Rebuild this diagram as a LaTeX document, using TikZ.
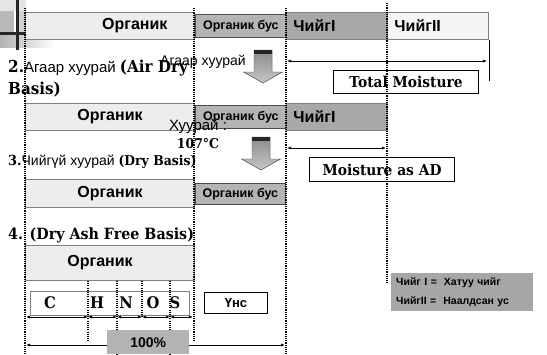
\documentclass[tikz,border=0pt]{standalone}
\usepackage{fontspec}
\setmainfont{Liberation Sans}
\newfontfamily\serf[FakeStretch=0.92]{DejaVu Serif}
\usetikzlibrary{arrows.meta,positioning,calc}
\definecolor{orglight}{HTML}{EDEDED}
\definecolor{busgray}{HTML}{B4B4B4}
\definecolor{moistgray}{HTML}{A8A8A8}
\definecolor{paleface}{HTML}{F5F5F5}
\definecolor{edgegray}{HTML}{808080}
\definecolor{arrowgray}{HTML}{8C8C8C}
\definecolor{pctgray}{HTML}{B3B3B3}
\definecolor{legendgray}{HTML}{A6A6A6}
\newcommand{\fsz}[1]{\fontsize{#1}{#1}\selectfont}
\tikzset{
  >=Latex,
  orgbox/.style={rectangle, draw=edgegray, line width=0.9pt, fill=orglight, inner sep=0pt,
    minimum width=169pt, minimum height=27pt, font=\fsz{16}\bfseries},
  busbox/.style={rectangle, draw=black!70, line width=0.7pt, fill=busgray, inner sep=0pt,
    minimum width=91pt, minimum height=23pt, font=\fsz{12.5}\bfseries},
  moistbox/.style={rectangle, draw=edgegray, line width=0.9pt, inner sep=0pt,
    minimum width=101pt, minimum height=27pt, text width=87pt, align=left, font=\fsz{16}\bfseries},
  namebox/.style={rectangle, draw=black, line width=1pt, fill=white, inner sep=0pt,
    minimum width=145pt, minimum height=23pt, font=\serf\bfseries\fsz{15}},
  heading/.style={anchor=west, inner sep=0pt, align=left},
  element/.style={inner sep=0pt, font=\serf\bfseries\fsz{16}},
  guide/.style={line width=1.1pt, dash pattern=on 1.1pt off 1.1pt},
  dim/.style={{Latex[length=4pt,width=3pt]}-{Latex[length=4pt,width=3pt]}, line width=0.7pt},
  legend/.style={rectangle, fill=legendgray, inner sep=0pt, minimum width=142pt, minimum height=38pt,
    text width=132pt, align=left, font=\fsz{10.5}\bfseries}
}
\newcommand{\dropdown}[2]{
  \filldraw[draw=gray!60!black, line width=0.4pt, top color=arrowgray, bottom color=arrowgray!50]
    ({#1-9},#2) -- ({#1+9},#2) -- ({#1+9},{#2+22}) -- ({#1+19.5},{#2+22}) -- (#1,{#2+33})
    -- ({#1-19.5},{#2+22}) -- ({#1-9},{#2+22}) -- cycle;
  \fill[black!85] ({#1-9},#2) rectangle ({#1+9},{#2+4});
}

\begin{document}
\begin{tikzpicture}[x=1pt, y=-1pt]
\useasboundingbox (0,0) rectangle (547,354);
\fill[gray!20] (0,0) rectangle (26,11);
\fill[gray!55] (0,11) rectangle (14,33);
\fill[gray!35] (19,11) rectangle (25,32);
\shade[left color=gray!60, right color=white] (0,35) rectangle (55,47);
\fill[black!85] (16,0) rectangle (19,50);
\fill[black!85] (0,32) rectangle (25,35);

\node[orgbox, anchor=north west, text width=115pt, align=right] (org1) at (25,12) {Органик};
\node[busbox, anchor=north west] (bus1) at (195,14) {Органик бус};
\node[moistbox, anchor=north west, fill=moistgray] (hard1) at (286,12) {ЧийгI};
\node[moistbox, anchor=north west, fill=paleface] (bound1) at (387,12) {ЧийгII};

\node[orgbox, anchor=north west] (org2) at (25,103) {Органик};
\node[busbox, anchor=north west] (bus2) at (195,105) {Органик бус};
\node[moistbox, anchor=north west, fill=moistgray] (hard2) at (286,103) {ЧийгI};

\node[orgbox, anchor=north west, minimum height=28pt] (org3) at (25,179) {Органик};
\node[busbox, anchor=north west, minimum width=90pt, minimum height=21pt] (bus3) at (195,183) {Органик бус};

\node[orgbox, anchor=north west, minimum height=35pt, text width=85pt, align=left] (org4) at (25,245) {Органик};
\node[rectangle, draw=edgegray, line width=0.9pt, fill=white, anchor=north west, minimum width=159pt, minimum height=24pt] (chnos) at (30,291) {};
\node[element] (elC) at (50,303) {C};
\node[element] (elH) at (97,303) {H};
\node[element] (elN) at (126,303) {N};
\node[element] (elO) at (153,303) {O};
\node[element] (elS) at (175,303) {S};
\node[namebox, anchor=north west, minimum width=63pt, minimum height=21pt, font=\fsz{13}\bfseries] (ash) at (204,292) {Үнс};

\node[heading, font=\fsz{15}] (hd2) at (8,78.5) {{\serf\bfseries\fsz{16.5}2.}Агаар хуурай {\serf\bfseries\fsz{16.5}(Air Dry}\\[4pt]{\serf\bfseries\fsz{16.5}Basis)}};
\node[heading] (hd3) at (8,162) {{\serf\bfseries\fsz{14}3.}{\fsz{14}Чийгүй хуурай }{\serf\bfseries\fsz{13.5}(Dry Basis)}};
\node[heading, font=\serf\bfseries\fsz{15.5}] (hd4) at (8,235) {4. (Dry Ash Free Basis)};
\node[inner sep=0pt, font=\fsz{14}] (airlbl) at (203,62) {Агаар хуурай};
\node[inner sep=0pt, align=center] (drylbl) at (198,134) {{\fsz{15}Хуурай :}\\[4pt]{\serf\bfseries\fsz{13.5}107°C}};

\dropdown{263}{50}
\dropdown{261}{137}

\node[namebox, anchor=north west] (tmbox) at (333,70) {Total Moisture};
\node[namebox, anchor=north west, minimum height=24pt] (adbox) at (309,157) {Moisture as AD};
\node[legend, anchor=north west] (key) at (391,273) {Чийг I =\ \ Хатуу чийг\\[8pt]ЧийгII =\ \ Наалдсан ус};

\draw[line width=0.7pt] (bound1.south east) -- ++(0,41);
\coordinate (tmL) at (287,61);
\coordinate (tmR) at (487,61);
\coordinate (adL) at (287,148);
\coordinate (adR) at (386,148);
\draw[dim] (tmL) -- (tmR);
\draw[dim] (adL) -- (adR);

\coordinate (gA1) at (25,8);
\coordinate (gA2) at (25,354);
\coordinate (gB1) at (194,8);
\coordinate (gB2) at (194,342);
\coordinate (gC1) at (286,8);
\coordinate (gC2) at (286,354);
\coordinate (gD1) at (387,3);
\coordinate (gD2) at (387,283);
\foreach \p/\q in {gA1/gA2, gB1/gB2, gC1/gC2, gD1/gD2}
  \draw[guide] (\p) -- (\q);

\coordinate (s0) at (26,317);
\coordinate (s1) at (88,317);
\coordinate (s2) at (117,317);
\coordinate (s3) at (142,317);
\coordinate (s4) at (170,317);
\coordinate (s5) at (193,317);
\draw[guide] (org4.south -| s1) -- ($(s1)+(0,25)$);
\draw[guide] (org4.south -| s2) -- ($(s2)+(0,37)$);
\draw[guide] (org4.south -| s3) -- (s3);
\draw[guide] (org4.south -| s4) -- ($(s4)+(0,37)$);
\foreach \p/\q in {s0/s1, s1/s2, s2/s3, s3/s4, s4/s5}
  \draw[dim] (\p) -- (\q);

\coordinate (pL) at (26,345);
\coordinate (pR) at (285,345);
\draw[dim] (pL) -- (pR);
\node[rectangle, fill=pctgray, anchor=north west, inner sep=0pt, minimum width=82pt, minimum height=24pt, font=\fsz{14}\bfseries] (total) at (107,330) {100\%};
\end{tikzpicture}
\end{document}
